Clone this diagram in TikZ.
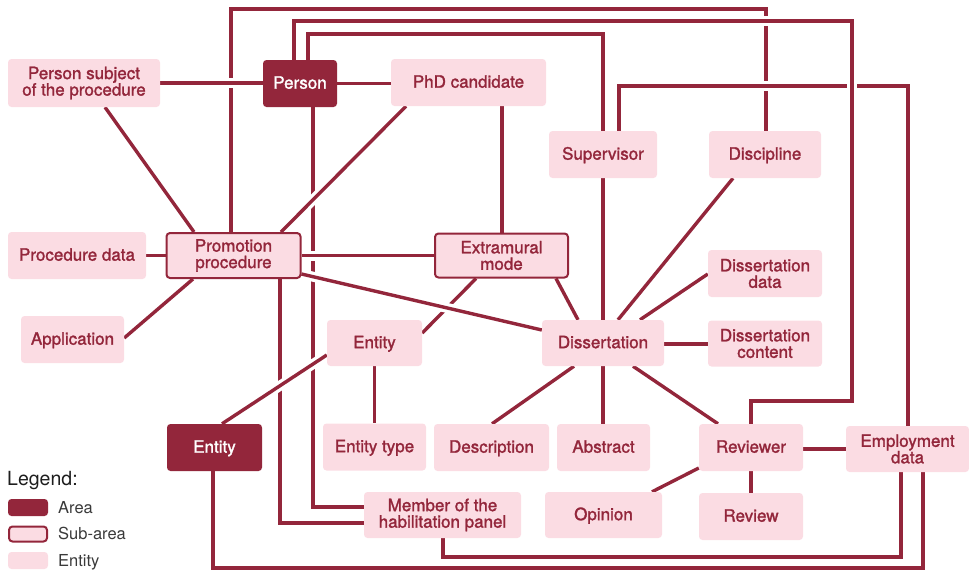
\documentclass[tikz,border=0pt]{standalone}
\usepackage{fontspec}
\setmainfont{TeX Gyre Heros}
\newfontfamily\boxfont[FakeBold=1.5]{TeX Gyre Heros}
\usetikzlibrary{backgrounds}

\definecolor{maroon}{HTML}{93263B}
\definecolor{blush}{HTML}{FBDCE3}
\definecolor{ink}{HTML}{1E1E1E}
\definecolor{inkgray}{HTML}{3A3A3A}

\tikzset{
  boxbase/.style={rounded corners=3.5pt, inner sep=0pt, align=center,
    font=\boxfont\fontsize{17}{16.5}\selectfont},
  oneline/.style={text height=12.3pt, text depth=2pt},
  entitybox/.style={boxbase, fill=blush, text=maroon},
  areabox/.style={boxbase, fill=maroon, text=white},
  subbox/.style={boxbase, fill=blush, draw=maroon, line width=2pt, text=maroon},
  link/.style={draw=maroon, line width=3.4pt},
  over/.style={link, preaction={draw=white, line width=10pt}},
  legendtext/.style={anchor=base west, inner sep=0pt, text=inkgray,
    font=\fontsize{16.5}{18}\selectfont},
}

\begin{document}
\begin{tikzpicture}[x=1pt, y=-1pt]
\useasboundingbox (0,0) rectangle (969,571);

% ---- boxes ----
\node[entitybox, minimum width=152, minimum height=48] (psubj) at (84,83) {Person subject\\of the procedure};
\node[areabox, oneline, minimum width=74, minimum height=47] (person) at (300,83.5) {Person};
\node[entitybox, oneline, minimum width=155, minimum height=47] (phd) at (468.5,82.5) {PhD candidate};
\node[entitybox, oneline, minimum width=108, minimum height=47] (sup) at (603,154.5) {Supervisor};
\node[entitybox, oneline, minimum width=112, minimum height=47] (disc) at (765,154.5) {Discipline};
\node[entitybox, oneline, minimum width=138, minimum height=47] (pdata) at (77,255.5) {Procedure data};
\node[subbox, minimum width=134, minimum height=45] (prom) at (233.5,255.5) {Promotion\\procedure};
\node[subbox, minimum width=133, minimum height=44] (extra) at (501.5,255.5) {Extramural\\mode};
\node[entitybox, oneline, minimum width=103, minimum height=47] (appl) at (72.5,339.5) {Application};
\node[entitybox, oneline, minimum width=95, minimum height=46] (ent) at (374.5,343) {Entity};
\node[entitybox, oneline, minimum width=122, minimum height=46] (diss) at (603,343) {Dissertation};
\node[entitybox, minimum width=114, minimum height=47] (ddata) at (765,273.5) {Dissertation\\data};
\node[entitybox, minimum width=114, minimum height=46] (dcont) at (765,343.5) {Dissertation\\content};
\node[areabox, oneline, minimum width=95, minimum height=47] (edark) at (214.5,447.5) {Entity};
\node[entitybox, oneline, minimum width=103, minimum height=47] (etype) at (374.5,447) {Entity type};
\node[entitybox, oneline, minimum width=115, minimum height=47] (descr) at (491.5,447.5) {Description};
\node[entitybox, oneline, minimum width=93, minimum height=47] (abstr) at (603.5,447.5) {Abstract};
\node[entitybox, oneline, minimum width=104, minimum height=47] (rev) at (751,447.5) {Reviewer};
\node[entitybox, minimum width=123, minimum height=46] (emp) at (907.5,449) {Employment\\data};
\node[entitybox, minimum width=157, minimum height=46] (member) at (442.5,515) {Member of the\\habilitation panel};
\node[entitybox, oneline, minimum width=117, minimum height=46] (opin) at (603.5,515) {Opinion};
\node[entitybox, oneline, minimum width=104, minimum height=47] (review) at (751,516.5) {Review};

% ---- legend ----
\node[anchor=base west, inner sep=0pt, text=ink, font=\fontsize{19.5}{22}\selectfont] (lgtitle) at (7,485) {Legend:};
\node[areabox, minimum width=40, minimum height=17] (lgarea) at (28,507.5) {};
\node[subbox, minimum width=38, minimum height=15] (lgsub) at (28,534) {};
\node[entitybox, minimum width=40, minimum height=17] (lgent) at (28,560.5) {};
\node[legendtext] (lgareatxt) at (58,513) {Area};
\node[legendtext] (lgsubtxt) at (58,539.5) {Sub-area};
\node[legendtext] (lgenttxt) at (58,566) {Entity};

% ---- connectors ----
\begin{pgfonlayer}{background}
  % lines that pass underneath others
  \draw[link] (prom.north -| 231,0) |- (766,9) -- (disc.north -| 766,0);
  \draw[link] (person.south -| 313,0) |- (member.west |- 0,507);
  \draw[link] (prom.south -| 280,0) |- (member.west |- 0,523);
  \draw[link] (extra.south -| 476,0) -- (ent.east |- 0,333);
  % ordinary links
  \draw[link] (person.north -| 308,0) |- (603,34) -- (sup.north);
  \draw[link] (sup.south) -- (diss.north);
  \draw[link] (person.east) -- (phd.west |- person.east);
  \draw[link] (phd.south -| 502,0) -- (extra.north -| 502,0);
  \draw[link] (psubj.south -| 105,0) -- (prom.north -| 194,0);
  \draw[link] (pdata.east) -- (prom.west);
  \draw[link] (appl.east |- 0,338) -- (prom.south -| 193,0);
  \draw[link] (extra.south -| 556,0) -- (diss.north -| 578,0);
  \draw[link] (ent.south) -- (etype.north);
  \draw[link] (disc.south -| 733,0) -- (diss.north -| 618,0);
  \draw[link] (ddata.west |- 0,274) -- (diss.north -| 640,0);
  \draw[link] (diss.east |- 0,344) -- (dcont.west |- 0,344);
  \draw[link] (diss.south -| 574,0) -- (descr.north -| 492,0);
  \draw[link] (diss.south) -- (abstr.north -| diss.south);
  \draw[link] (diss.south -| 633,0) -- (rev.north -| 718,0);
  \draw[link] (rev.west |- 0,468) -- (opin.north -| 652,0);
  \draw[link] (rev.east |- 0,449) -- (emp.west |- 0,449);
  \draw[link] (rev.south) -- (review.north);
  \draw[link] (emp.south -| 901,0) -- (901,557) -| (member.south -| 443,0);
  \draw[link] (emp.south -| 923,0) -- (923,568) -| (edark.south -| 213,0);
  % lines that pass over others, cut out with a white casing
  \draw[over] (psubj.east |- 0,83) -- (person.west |- 0,83);
  \draw[over] (prom.north -| 281,0) -- (phd.south -| 406,0);
  \draw[over] (prom.east) -- (extra.west |- prom.east);
  \draw[over] (prom.east |- 0,274) -- (diss.west |- 0,330);
  \draw[over] (ent.west |- 0,355) -- (edark.north -| 222,0);
  \draw[over] (sup.north -| 619,0) |- (908,86) -- (emp.north -| 908,0);
  \draw[over] (person.north -| 294,0) |- (852,21) |- (751,401) -- (rev.north -| 751,0);
\end{pgfonlayer}
\end{tikzpicture}
\end{document}
